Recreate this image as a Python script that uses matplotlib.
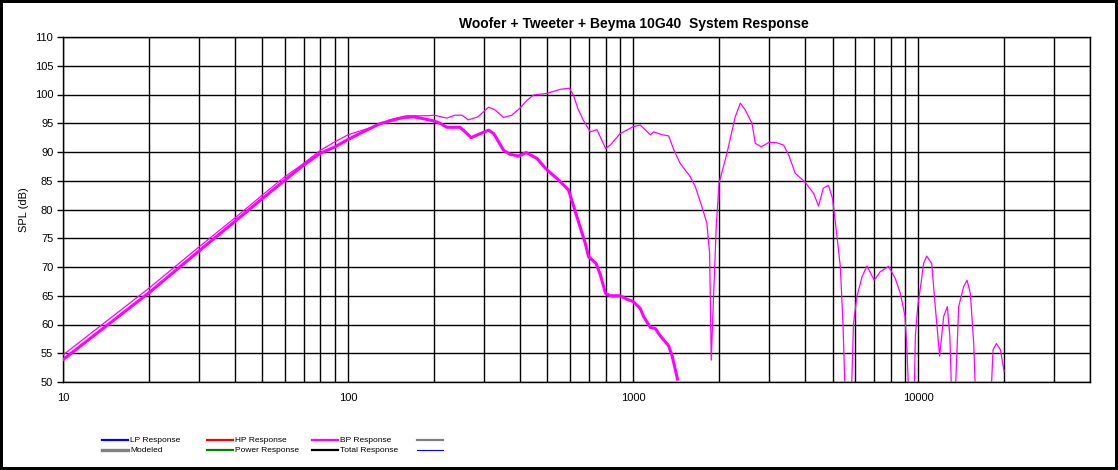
import matplotlib.pyplot as plt
from matplotlib.lines import Line2D
from matplotlib.ticker import FixedLocator, NullFormatter

plt.rcParams['font.family'] = ['Liberation Sans', 'DejaVu Sans']

title = 'Woofer + Tweeter + Beyma 10G40  System Response'
y_label = 'SPL (dB)'

# thick curve (woofer band-pass, modeled)
woofer_freq = [10, 20, 30, 40, 50, 60, 68, 80, 90, 100, 115, 129, 145, 156, 170, 179,
               200, 210, 222, 247, 260, 270, 291, 311, 324, 351, 370, 396, 421, 459,
               498, 540, 593, 635, 679, 697, 741, 766, 800, 830, 900, 950, 1000, 1058,
               1087, 1148, 1195, 1245, 1331, 1368, 1430]
woofer_spl = [53.9, 65.5, 72.8, 77.9, 81.9, 85.1, 87.3, 89.8, 90.9, 92.2, 93.7, 94.9, 95.6,
              96.0, 96.1, 95.9, 95.4, 95.0, 94.3, 94.3, 93.3, 92.5, 93.2, 93.8, 93.2, 90.3,
              89.6, 89.3, 89.9, 88.9, 86.9, 85.4, 83.4, 78.7, 74.1, 71.8, 70.6, 68.7, 65.4,
              65.0, 65.0, 64.4, 64.0, 62.8, 61.4, 59.5, 59.3, 58.0, 56.3, 54.6, 50.5]

# thin curve (measured system response)
system_freq = [10, 20, 30, 40, 50, 60, 68, 80, 90, 100, 121, 140, 160, 191, 200, 222, 237,
               251, 264, 285, 311, 328, 351, 375, 400, 424, 447, 498, 555, 597, 617, 640,
               667, 707, 746, 800, 830, 900, 1000, 1058, 1148, 1180, 1262, 1331, 1390, 1462,
               1585, 1650, 1741, 1813, 1853, 1878, 1904, 1955, 2000, 2132, 2279, 2374, 2472,
               2609, 2680, 2812, 3000, 3191, 3369, 3508, 3700, 4000, 4292, 4468, 4640, 4842,
               5000, 5185, 5325, 5440, 5560, 5800, 5925, 6086, 6346, 6607, 7000, 7357, 7868,
               8300, 8650, 8980, 9120, 9300, 9650, 9760, 9950, 10220, 10430, 10700, 11140,
               11470, 11875, 12270, 12640, 12900, 13130, 13410, 13850, 14420, 14820, 15220,
               15640, 15940, 16800, 17890, 18280, 18780, 19400, 20000]
system_spl = [54.7, 66.3, 73.5, 78.5, 82.5, 85.7, 87.6, 90.3, 91.8, 93.0, 94.3, 95.6, 96.3,
              96.3, 96.4, 95.9, 96.4, 96.4, 95.6, 96.1, 97.8, 97.3, 96.0, 96.4, 97.6, 99.0,
              99.9, 100.2, 100.9, 101.1, 99.9, 97.5, 95.6, 93.5, 93.9, 90.6, 91.2, 93.2, 94.4,
              94.7, 93.0, 93.5, 93.0, 92.8, 90.3, 88.0, 85.7, 84.0, 80.5, 77.6, 72.4, 53.8,
              62.0, 77.0, 84.6, 89.8, 96.1, 98.5, 97.3, 95.0, 91.5, 90.9, 91.7, 91.6, 91.2,
              89.5, 86.3, 84.8, 82.8, 80.6, 83.7, 84.2, 81.9, 75.3, 70.1, 60.2, 45.0, 45.0,
              60.2, 64.8, 68.3, 70.2, 67.7, 69.2, 70.1, 68.0, 65.4, 61.4, 55.6, 45.0, 45.0,
              57.9, 63.1, 67.2, 70.6, 71.9, 70.6, 63.0, 54.5, 61.4, 63.1, 57.9, 45.0, 45.0,
              63.1, 66.6, 67.7, 65.4, 56.7, 45.0, 40.0, 45.0, 55.6, 56.7, 55.6, 51.8]

y_ticks = list(range(50, 111, 5))
x_major = [10, 100, 1000, 10000]
x_minor = [m * d for d in [10, 100, 1000, 10000] for m in range(2, 10) if m * d <= 40000]

legend_labels = ['LP Response', 'HP Response', 'BP Response', '',
                 'Modeled', 'Power Response', 'Total Response', '']
legend_colors = ['#0000ff', '#ff0000', '#ff00ff', '#808080',
                 '#808080', '#008000', '#000000', '#0000ff']
legend_widths = [2, 2, 2, 2, 3, 2, 2, 1]

W, H = 1118, 470
fig = plt.figure(figsize=(W / 100, H / 100), dpi=100)
fig.patch.set_facecolor('white')
fig.patch.set_edgecolor('black')
fig.patch.set_linewidth(4)

ax = fig.add_axes([63 / W, (H - 382) / H, (1090 - 63) / W, (382 - 37) / H])
ax.plot(woofer_freq, woofer_spl, color='#ff00ff', lw=2.2, zorder=3)
ax.plot(system_freq, system_spl, color='#ff00ff', lw=0.9, zorder=4)

ax.set_xscale('log')
ax.set_xlim(10, 40000)
ax.set_ylim(50, 110)
ax.xaxis.set_major_locator(FixedLocator(x_major))
ax.xaxis.set_minor_locator(FixedLocator(x_minor))
ax.xaxis.set_minor_formatter(NullFormatter())
ax.set_xticklabels([str(v) for v in x_major])
ax.set_yticks(y_ticks)
ax.grid(which='both', color='black', lw=1.0)
ax.set_axisbelow(True)
for s in ax.spines.values():
    s.set_color('black')
    s.set_linewidth(1.0)

ax.tick_params(axis='x', which='both', length=0, pad=8, labelsize=8)
ax.tick_params(axis='y', length=4, width=1, pad=3, labelsize=8)

ax.set_ylabel(y_label, fontsize=8, labelpad=4)
fig.text(634 / W, 1 - 24 / H, title, ha='center', va='center',
         fontsize=10, fontweight='bold')

# legend drawn in two rows of four columns
for i, (lab, col, lw) in enumerate(zip(legend_labels, legend_colors, legend_widths)):
    r, c = divmod(i, 4)
    x0 = 102 + c * 105
    y = 1 - (440 + r * 10) / H
    fig.add_artist(Line2D([x0 / W, (x0 + 26) / W], [y, y], color=col, lw=lw * 0.8,
                          transform=fig.transFigure))
    if lab:
        fig.text((x0 + 28) / W, y, lab, fontsize=6, va='center', ha='left')

fig.savefig('out.png', dpi=100)
